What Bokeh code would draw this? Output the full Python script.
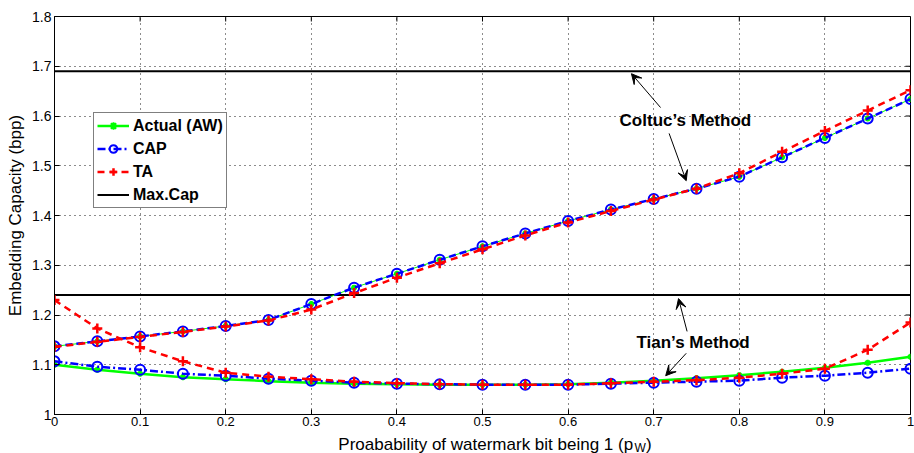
from bokeh.plotting import figure
from bokeh.layouts import column
from bokeh.models import (FixedTicker, Legend, LegendItem, Label, Arrow, VeeHead, Range1d)
from bokeh.core.properties import value
from bokeh.embed import file_html
from bokeh.resources import INLINE

# ---------------- data ----------------
pw = [0.0, 0.05, 0.1, 0.15, 0.2, 0.25, 0.3, 0.35, 0.4, 0.45, 0.5,
      0.55, 0.6, 0.65, 0.7, 0.75, 0.8, 0.85, 0.9, 0.95, 1.0]

# Coltuc's method (upper group)
actual_coltuc = [1.137, 1.147, 1.157, 1.167, 1.178, 1.190, 1.222, 1.255, 1.283, 1.311, 1.338,
                 1.364, 1.389, 1.412, 1.433, 1.454, 1.478, 1.517, 1.556, 1.595, 1.634]
cap_coltuc = [1.137, 1.147, 1.157, 1.167, 1.178, 1.190, 1.222, 1.255, 1.283, 1.311, 1.338,
              1.364, 1.389, 1.412, 1.433, 1.454, 1.478, 1.517, 1.556, 1.595, 1.634]
ta_coltuc = [1.136, 1.146, 1.156, 1.166, 1.177, 1.189, 1.211, 1.244, 1.275, 1.304, 1.332,
             1.360, 1.386, 1.409, 1.432, 1.454, 1.485, 1.528, 1.570, 1.611, 1.652]

# Tian's method (lower group)
actual_tian = [1.100, 1.090, 1.082, 1.075, 1.071, 1.067, 1.064, 1.062, 1.061, 1.060, 1.060,
               1.060, 1.061, 1.064, 1.068, 1.073, 1.079, 1.086, 1.094, 1.104, 1.116]
cap_tian = [1.107, 1.096, 1.090, 1.082, 1.078, 1.072, 1.068, 1.064, 1.062, 1.061, 1.060,
            1.060, 1.060, 1.062, 1.064, 1.066, 1.068, 1.074, 1.078, 1.084, 1.092]
ta_tian = [1.230, 1.173, 1.135, 1.107, 1.084, 1.076, 1.071, 1.066, 1.063, 1.061, 1.060,
           1.060, 1.060, 1.063, 1.066, 1.069, 1.074, 1.082, 1.092, 1.130, 1.185]

max_cap_coltuc = 1.69
max_cap_tian = 1.24

x_ticks = [0.0, 0.1, 0.2, 0.3, 0.4, 0.5, 0.6, 0.7, 0.8, 0.9, 1.0]
x_tick_labels = ["0", "0.1", "0.2", "0.3", "0.4", "0.5", "0.6", "0.7", "0.8", "0.9", "1"]
y_ticks = [1.0, 1.1, 1.2, 1.3, 1.4, 1.5, 1.6, 1.7, 1.8]
y_tick_labels = ["1", "1.1", "1.2", "1.3", "1.4", "1.5", "1.6", "1.7", "1.8"]

x_label_main = "Proabability of watermark bit being 1 (p"
x_label_sub = "W"
x_label_close = ")"
y_label = "Embedding Capacity (bpp)"

FONT = "Liberation Sans"
GREEN = "#00ff00"
BLUE = "#0000ff"
RED = "#ff0000"

X0, X1, Y0, Y1 = 0, 1, 1, 1.8

p = figure(width=914, height=431, output_backend="svg", toolbar_location=None,
           x_range=Range1d(X0, X1), y_range=Range1d(Y0, Y1),
           min_border_left=54, min_border_right=4, min_border_top=16, min_border_bottom=17)
p.background_fill_color = "white"
p.border_fill_color = "white"
p.outline_line_color = "black"
p.outline_line_width = 1

# axes
for ax in [p.xaxis[0], p.yaxis[0]]:
    ax.major_tick_in = 5
    ax.major_tick_out = 0
    ax.minor_tick_line_color = None
    ax.axis_line_color = "black"
    ax.major_label_text_font = FONT
    ax.major_label_text_font_size = "13px"
    ax.major_label_text_color = "black"
p.xaxis[0].ticker = FixedTicker(ticks=x_ticks)
p.xaxis[0].major_label_overrides = {t: l for t, l in zip(x_ticks, x_tick_labels)}
p.xaxis[0].major_label_standoff = 2
p.yaxis[0].ticker = FixedTicker(ticks=y_ticks)
p.yaxis[0].major_label_overrides = {t: l for t, l in zip(y_ticks, y_tick_labels)}
p.yaxis[0].major_label_text_font_size = "14px"
p.yaxis[0].major_label_standoff = 3
p.yaxis[0].axis_label = y_label
p.yaxis[0].axis_label_text_font = FONT
p.yaxis[0].axis_label_text_font_size = "17px"
p.yaxis[0].axis_label_text_font_style = "normal"
p.yaxis[0].axis_label_text_color = "black"
p.yaxis[0].axis_label_standoff = 4

# grid
p.xgrid.ticker = FixedTicker(ticks=x_ticks)
p.ygrid.ticker = FixedTicker(ticks=y_ticks)
for g in [p.xgrid[0], p.ygrid[0]]:
    g.grid_line_color = "black"
    g.grid_line_alpha = 0.9
    g.grid_line_dash = "1 4"
    g.grid_line_width = 1

# mirrored inner ticks on top and right edges (box style)
tick_dx = (X1 - X0) * 5 / 856
tick_dy = (Y1 - Y0) * 5 / 398
p.segment(x0=x_ticks, y0=[Y1] * len(x_ticks), x1=x_ticks, y1=[Y1 - tick_dy] * len(x_ticks),
          line_color="black", line_width=1)
p.segment(x0=[X1] * len(y_ticks), y0=y_ticks, x1=[X1 - tick_dx] * len(y_ticks), y1=y_ticks,
          line_color="black", line_width=1)

# max capacity lines
mc1 = p.line([X0, X1], [max_cap_coltuc, max_cap_coltuc], line_color="black", line_width=2)
mc2 = p.line([X0, X1], [max_cap_tian, max_cap_tian], line_color="black", line_width=2)

# Coltuc series
p.line(pw, actual_coltuc, line_color=GREEN, line_width=1)
p.scatter(pw, actual_coltuc, marker="asterisk", size=6, line_color=GREEN, line_width=2)
p.line(pw, cap_coltuc, line_color=BLUE, line_width=2.5, line_dash="7 4")
p.scatter(pw, cap_coltuc, marker="circle", size=10, line_color=BLUE, fill_color=None, line_width=2)
p.line(pw, ta_coltuc, line_color=RED, line_width=2.5, line_dash="7 5")
p.scatter(pw, ta_coltuc, marker="cross", size=10, line_color=RED, line_width=2.5)

# Tian series
a_l = p.line(pw, actual_tian, line_color=GREEN, line_width=2.5)
a_s = p.scatter(pw, actual_tian, marker="asterisk", size=6, line_color=GREEN, line_width=2)
c_l = p.line(pw, cap_tian, line_color=BLUE, line_width=2.5, line_dash="8 3 2 3")
c_s = p.scatter(pw, cap_tian, marker="circle", size=10, line_color=BLUE, fill_color=None, line_width=2)
t_l = p.line(pw, ta_tian, line_color=RED, line_width=2.5, line_dash="7 5")
t_s = p.scatter(pw, ta_tian, marker="cross", size=10, line_color=RED, line_width=2.5)

legend = Legend(items=[
    LegendItem(label="Actual (AW)", renderers=[a_l, a_s]),
    LegendItem(label="CAP", renderers=[c_l, c_s]),
    LegendItem(label="TA", renderers=[t_l, t_s]),
    LegendItem(label="Max.Cap", renderers=[mc1]),
], location=(39, 206))
legend.label_text_font = FONT
legend.label_text_font_style = "bold"
legend.label_text_font_size = "16px"
legend.label_text_color = "black"
legend.border_line_color = "black"
legend.border_line_width = 1.5
legend.background_fill_alpha = 1
legend.glyph_width = 32
legend.glyph_height = 19
legend.label_height = 19
legend.spacing = 4
legend.padding = 3
legend.margin = 0
legend.label_standoff = 4
p.add_layout(legend, "center")

# annotations
def lbl(x, y, text):
    p.add_layout(Label(x=x, y=y, text=text, text_font=FONT, text_font_size="17px",
                       text_font_style="bold", text_color="black",
                       text_align="center", text_baseline="middle"))

lbl(0.737, 1.591, "Coltuc\u2019s Method")
lbl(0.746, 1.145, "Tian\u2019s Method")

arrows = [
    (0.708, 1.617, 0.674, 1.685),
    (0.718, 1.565, 0.738, 1.470),
    (0.739, 1.167, 0.729, 1.233),
    (0.738, 1.123, 0.714, 1.078),
]
for xs, ys, xe, ye in arrows:
    p.add_layout(Arrow(x_start=xs, y_start=ys, x_end=xe, y_end=ye, line_color="black", line_width=1,
                       end=VeeHead(size=10, fill_color="black", line_color="black")))

# ---- strip below the plot holding the x-axis label (with subscript) ----
q = figure(width=914, height=22, output_backend="svg", toolbar_location=None,
           x_range=p.x_range, y_range=Range1d(0, 22),
           x_axis_type=None, y_axis_type=None,
           min_border_left=54, min_border_right=4, min_border_top=0, min_border_bottom=0)
q.outline_line_color = None
q.grid.visible = False
q.background_fill_color = "white"
q.border_fill_color = "white"
q.text(x=[0.676], y=[9], text=[x_label_main], text_font=value(FONT), text_font_size="17px",
       text_align="right", text_baseline="alphabetic", text_color="black")
q.text(x=[0.6775], y=[6], text=[x_label_sub], text_font=value(FONT), text_font_size="12px",
       text_align="left", text_baseline="alphabetic", text_color="black")
q.text(x=[0.691], y=[9], text=[x_label_close], text_font=value(FONT), text_font_size="17px",
       text_align="left", text_baseline="alphabetic", text_color="black")

layout = column(p, q, spacing=0)
open("out.html", "w").write(file_html(layout, INLINE))
